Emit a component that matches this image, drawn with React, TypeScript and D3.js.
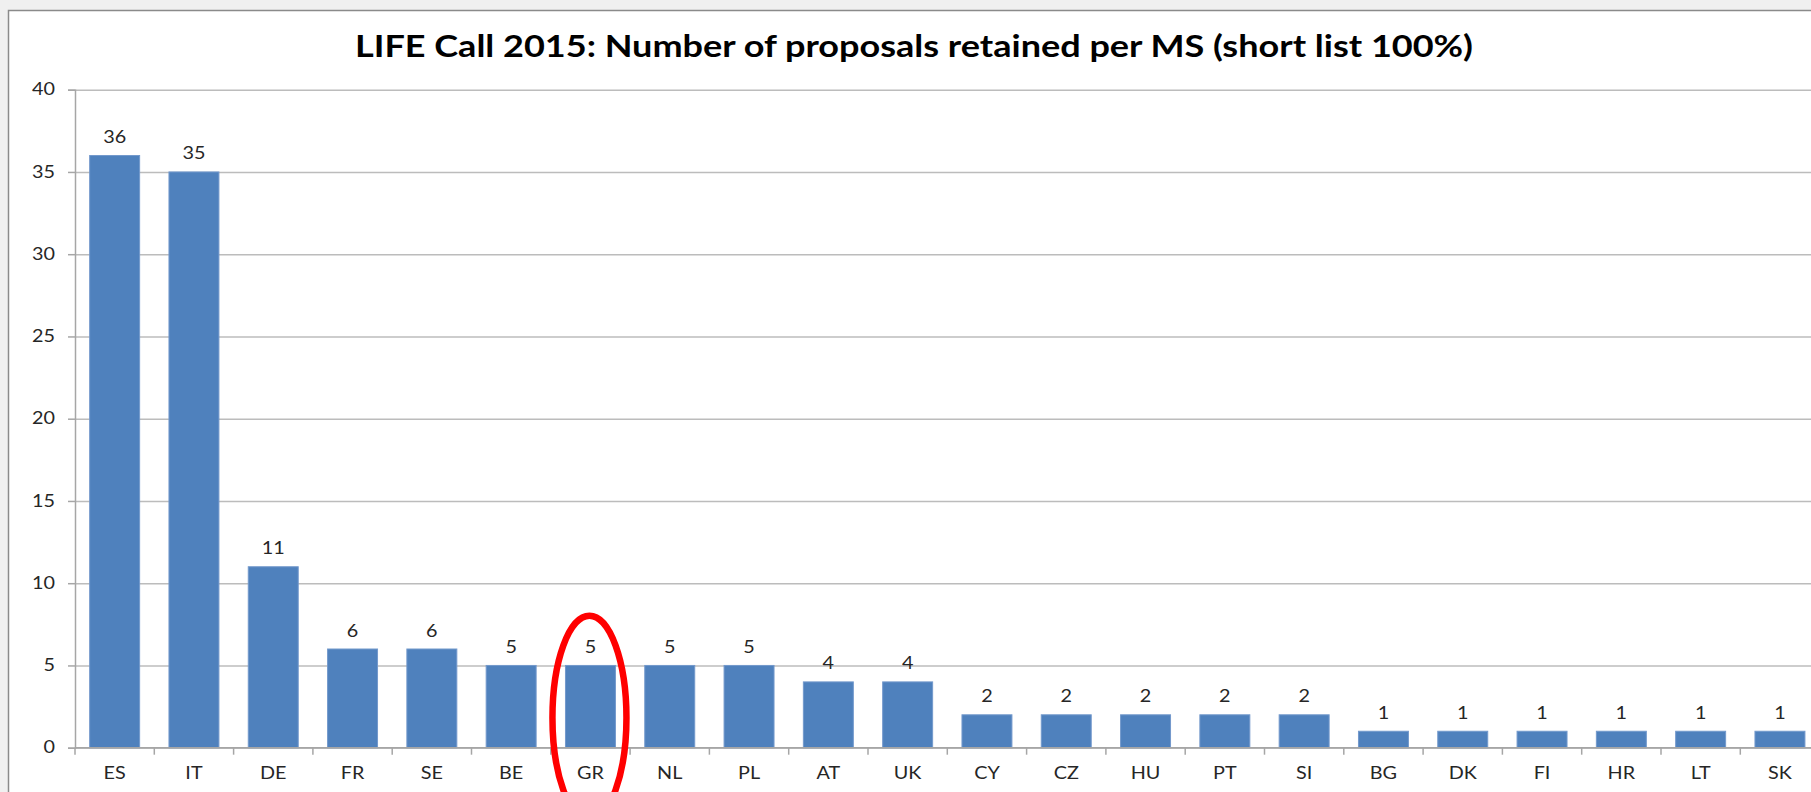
import React, { useEffect, useRef } from "react";
import * as d3 from "d3";

// LIFE Call 2015 short list, proposals retained per member state
const countries = [
  "ES", "IT", "DE", "FR", "SE", "BE", "GR", "NL", "PL", "AT", "UK",
  "CY", "CZ", "HU", "PT", "SI", "BG", "DK", "FI", "HR", "LT", "SK",
];
const proposals = [36, 35, 11, 6, 6, 5, 5, 5, 5, 4, 4, 2, 2, 2, 2, 2, 1, 1, 1, 1, 1, 1];
const yTicks = [0, 5, 10, 15, 20, 25, 30, 35, 40];
const highlighted = "GR";
const title = "LIFE Call 2015: Number of proposals retained per MS (short list 100%)";

const width = 1811;
const height = 792;
const font = "Lato, 'Open Sans', sans-serif";
const labelSize = 16.5;
const stretch = 1.2; // the original screenshot is a bit wider than tall

const App: React.FC = () => {
  const svgRef = useRef<SVGSVGElement | null>(null);

  useEffect(() => {
    const svg = d3.select(svgRef.current);
    svg.selectAll("*").remove();

    const left = 75;
    const right = 1819.6;
    const top = 89.7;
    const bottom = 747.7;

    const data = countries.map((c, i) => ({ country: c, value: proposals[i] }));

    const x = d3
      .scaleBand<string>()
      .domain(countries)
      .range([left, right])
      .paddingInner(0.37)
      .paddingOuter(0.185);
    const xBand = d3.scaleBand<string>().domain(countries).range([left, right]);
    const y = d3.scaleLinear().domain([0, 40]).range([bottom, top]);

    // page background + chart frame
    svg.append("rect").attr("width", width).attr("height", height).attr("fill", "#f0f0f0");
    svg
      .append("rect")
      .attr("x", 8.5)
      .attr("y", 10.5)
      .attr("width", width)
      .attr("height", height)
      .attr("fill", "#ffffff")
      .attr("stroke", "#8a8a8a")
      .attr("stroke-width", 1.5);

    svg
      .append("text")
      .attr("x", 914)
      .attr("y", 57)
      .attr("text-anchor", "middle")
      .attr("font-family", font)
      .attr("font-weight", "bold")
      .attr("font-size", 30)
      .attr("fill", "#000")
      .attr("textLength", 1118)
      .attr("lengthAdjust", "spacingAndGlyphs")
      .text(title);

    // gridlines
    svg
      .append("g")
      .attr("transform", `translate(${left},0)`)
      .call(
        d3
          .axisLeft(y)
          .tickValues(yTicks)
          .tickSize(-(right - left))
          .tickFormat(() => "")
      )
      .call((g) => g.select(".domain").remove())
      .selectAll(".tick line")
      .attr("stroke", "#bcbcbc")
      .attr("stroke-width", 1.5);

    // y axis
    const yAxis = svg
      .append("g")
      .attr("transform", `translate(${left},0)`)
      .call(d3.axisLeft(y).tickValues(yTicks).tickSize(7).tickPadding(13));
    yAxis.select(".domain").attr("stroke", "#a6a6a6").attr("stroke-width", 1.5);
    yAxis.selectAll(".tick line").attr("stroke", "#a6a6a6").attr("stroke-width", 1.5);
    yAxis
      .selectAll(".tick text")
      .attr("x", null)
      .attr("transform", `translate(-20,0) scale(${stretch},1)`)
      .attr("font-family", font)
      .attr("font-size", labelSize)
      .attr("fill", "#262626");

    // bars
    svg
      .selectAll(".bar")
      .data(data)
      .enter()
      .append("rect")
      .attr("class", "bar")
      .attr("x", (d) => x(d.country) as number)
      .attr("y", (d) => y(d.value))
      .attr("width", x.bandwidth())
      .attr("height", (d) => y(0) - y(d.value))
      .attr("fill", "#4f81bd")
      .attr("stroke", "#7399cc")
      .attr("stroke-width", 1);

    // value labels
    svg
      .selectAll(".value")
      .data(data)
      .enter()
      .append("text")
      .attr(
        "transform",
        (d) =>
          `translate(${(x(d.country) as number) + x.bandwidth() / 2},${y(d.value) - 12.5}) scale(${stretch},1)`
      )
      .attr("text-anchor", "middle")
      .attr("font-family", font)
      .attr("font-size", labelSize)
      .attr("fill", "#262626")
      .text((d) => d.value);

    // x axis line + tick marks at category boundaries
    svg
      .append("line")
      .attr("x1", left)
      .attr("x2", right)
      .attr("y1", y(0))
      .attr("y2", y(0))
      .attr("stroke", "#a6a6a6")
      .attr("stroke-width", 1.5);
    const bounds = countries.map((c) => xBand(c) as number).concat([right]);
    svg
      .selectAll(".xtick")
      .data(bounds)
      .enter()
      .append("line")
      .attr("x1", (d) => d)
      .attr("x2", (d) => d)
      .attr("y1", y(0))
      .attr("y2", y(0) + 7)
      .attr("stroke", "#a6a6a6")
      .attr("stroke-width", 1.5);

    svg
      .selectAll(".cat")
      .data(countries)
      .enter()
      .append("text")
      .attr(
        "transform",
        (d) =>
          `translate(${(xBand(d) as number) + xBand.bandwidth() / 2},${y(0) + 31}) scale(${stretch},1)`
      )
      .attr("text-anchor", "middle")
      .attr("font-family", font)
      .attr("font-size", labelSize)
      .attr("fill", "#262626")
      .text((d) => d);

    // red highlight ellipse
    svg
      .append("ellipse")
      .attr("cx", (x(highlighted) as number) + x.bandwidth() / 2 - 1)
      .attr("cy", y(0) - 30)
      .attr("rx", 37)
      .attr("ry", 102)
      .attr("fill", "none")
      .attr("stroke", "#ff0000")
      .attr("stroke-width", 6.5);
  }, []);

  return (
    <div style={{ position: "absolute", left: 0, top: 0 }}>
      <svg ref={svgRef} width={width} height={height} style={{ display: "block" }}></svg>
    </div>
  );
};

export default App;
